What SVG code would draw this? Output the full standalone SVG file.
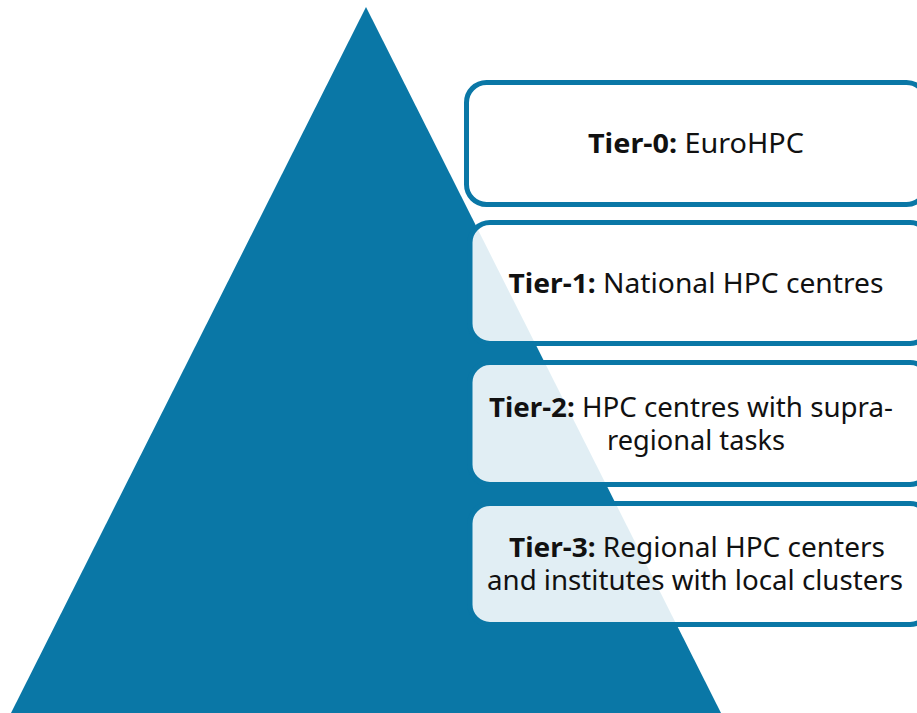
<svg xmlns="http://www.w3.org/2000/svg" width="917" height="713" viewBox="0 0 917 713">
<style>
.box{fill:#ffffff;fill-opacity:0.88;stroke:#0a77a6;stroke-width:5}
.t{font-family:"Noto Sans","Open Sans","Liberation Sans",sans-serif;font-size:27px;fill:#111111;text-anchor:middle}
.b{font-weight:bold}
</style>
<rect width="917" height="713" fill="#ffffff"/>
<g id="pyramid"><polygon points="366,7 721,713 11,713" fill="#0a77a6"/></g>
<g id="tier0">
<rect class="box" x="466.5" y="82.5" width="460" height="122" rx="20"/>
<text class="t" x="696" y="153" textLength="216" lengthAdjust="spacingAndGlyphs"><tspan class="b">Tier-0:</tspan> EuroHPC</text>
</g>
<g id="tier1">
<rect class="box" x="470" y="222.5" width="460" height="121" rx="20"/>
<text class="t" x="696" y="293" textLength="375" lengthAdjust="spacingAndGlyphs"><tspan class="b">Tier-1:</tspan> National HPC centres</text>
</g>
<g id="tier2">
<rect class="box" x="470" y="362.5" width="460" height="122" rx="20"/>
<text class="t" x="691" y="417" textLength="404" lengthAdjust="spacingAndGlyphs"><tspan class="b">Tier-2:</tspan> HPC centres with supra-</text>
<text class="t" x="696" y="450" textLength="178" lengthAdjust="spacingAndGlyphs">regional tasks</text>
</g>
<g id="tier3">
<rect class="box" x="470" y="503.5" width="460" height="121" rx="20"/>
<text class="t" x="697" y="557" textLength="376" lengthAdjust="spacingAndGlyphs"><tspan class="b">Tier-3:</tspan> Regional HPC centers</text>
<text class="t" x="695" y="590" textLength="416" lengthAdjust="spacingAndGlyphs">and institutes with local clusters</text>
</g>
<g id="connectors"></g>
</svg>
